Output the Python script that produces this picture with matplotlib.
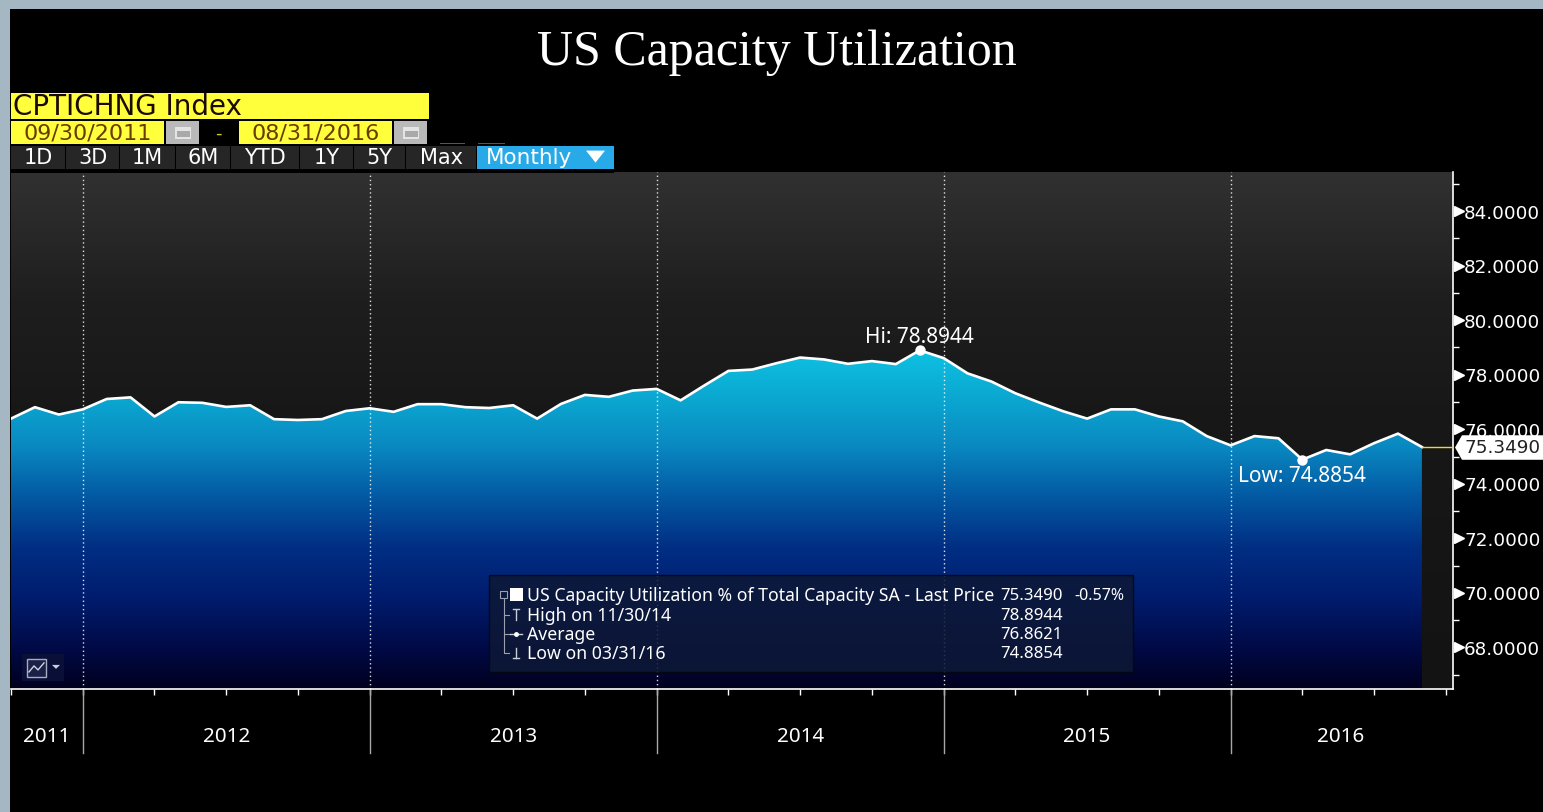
import numpy as np
import matplotlib
matplotlib.use('Agg')
import matplotlib.pyplot as plt
from matplotlib.colors import LinearSegmentedColormap
from matplotlib.patches import Polygon, Rectangle
from matplotlib.transforms import blended_transform_factory

W, H = 1543, 812

# monthly values, 09/2011 - 08/2016
values = [
    76.39, 76.81, 76.54, 76.73,
    77.11, 77.17, 76.47, 76.99, 76.97, 76.82, 76.88, 76.37, 76.34, 76.37, 76.67, 76.77,
    76.64, 76.92, 76.92, 76.81, 76.78, 76.88, 76.39, 76.93, 77.26, 77.19, 77.42, 77.48,
    77.06, 77.61, 78.14, 78.19, 78.42, 78.63, 78.56, 78.40, 78.50, 78.39, 78.8944, 78.61,
    78.05, 77.75, 77.32, 76.98, 76.66, 76.39, 76.73, 76.73, 76.47, 76.29, 75.75, 75.41,
    75.75, 75.67, 74.8854, 75.24, 75.08, 75.49, 75.84, 75.349,
]
year_labels = ['2011', '2012', '2013', '2014', '2015', '2016']
year_centers = [1.5, 9, 21, 33, 45, 55.6]
year_breaks = [3, 15, 27, 39, 51]
y_ticks = [68, 70, 72, 74, 76, 78, 80, 82, 84]
buttons = ['1D', '3D', '1M', '6M', 'YTD', '1Y', '5Y', 'Max']
legend_rows = ['US Capacity Utilization % of Total Capacity SA - Last Price',
               'High on 11/30/14', 'Average', 'Low on 03/31/16']
legend_vals = ['75.3490', '78.8944', '76.8621', '74.8854']

plt.rcParams['font.family'] = ['Noto Sans', 'DejaVu Sans']
# the extra half pixel stops savefig rounding the height down to 811
fig = plt.figure(figsize=(W / 100, (H + 0.5) / 100), dpi=100, facecolor='black')


def px_axes(left, top, right, bottom):
    return [left / W, 1 - bottom / H, (right - left) / W, (bottom - top) / H]


# chart area
ax = fig.add_axes(px_axes(11, 172.5, 1453, 689.5))
x = np.arange(len(values))
ax.set_xlim(0, 60.3)
ax.set_ylim(66.46, 85.43)
xlim = ax.get_xlim()
ylim = ax.get_ylim()

panel = LinearSegmentedColormap.from_list(
    'panel', [(0, '#131313'), (0.55, '#181818'), (0.75, '#1e1e1e'), (1, '#313131')])
ax.imshow(np.linspace(0, 1, 256)[::-1].reshape(-1, 1), cmap=panel, aspect='auto',
          extent=[*xlim, *ylim], zorder=0)

area = LinearSegmentedColormap.from_list(
    'area', [(0, '#00001e'), (0.12, '#000a46'), (0.27, '#001c6e'), (0.42, '#012f84'),
             (0.58, '#045da6'), (0.72, '#0a8ac2'), (0.85, '#0ba6d0'), (1, '#0dc2e2')])
top_val = max(values)
im = ax.imshow(np.linspace(0, 1, 256)[::-1].reshape(-1, 1), cmap=area, aspect='auto',
               extent=[xlim[0], xlim[1], ylim[0], top_val], zorder=1)
ax.set_xlim(xlim)
ax.set_ylim(ylim)
verts = [(x[0], ylim[0])] + list(zip(x, values)) + [(x[-1], ylim[0])]
im.set_clip_path(Polygon(verts, closed=True, transform=ax.transData))

for b in year_breaks:
    ax.axvline(b, color='white', lw=1, ls=(0, (1, 2)), alpha=0.85, zorder=2)

ax.plot(x, values, color='white', lw=1.9, solid_joinstyle='round', zorder=3)
hi = int(np.argmax(values))
lo = int(np.argmin(values))
ax.plot([x[hi], x[lo]], [values[hi], values[lo]], 'o', color='white', ms=6.5, zorder=4)
ax.annotate('Hi: 78.8944', (x[hi], values[hi]), xytext=(0, 13), textcoords='offset pixels',
            color='white', fontsize=15, ha='center', va='center', zorder=5)
ax.annotate('Low: 74.8854', (x[lo], values[lo]), xytext=(0, -16), textcoords='offset pixels',
            color='white', fontsize=15, ha='center', va='center', zorder=5)

# last price line out to the tag
ax.plot([x[-1], xlim[1]], [values[-1], values[-1]], color='#e8dc30', lw=1, zorder=3)

for s in ['top', 'left']:
    ax.spines[s].set_visible(False)
for s in ['bottom', 'right']:
    ax.spines[s].set_color('white')
    ax.spines[s].set_linewidth(1.2)

ax.yaxis.tick_right()
ax.set_yticks(y_ticks)
ax.set_yticks(np.arange(67, 86, 2), minor=True)
ax.set_yticklabels([f'{v:.4f}' for v in y_ticks], color='white', family='DejaVu Sans', fontsize=13.2)
ax.tick_params(axis='y', which='major', length=0, pad=8)
ax.tick_params(axis='y', which='minor', length=4, color='white', width=1)
ytrans = blended_transform_factory(ax.transAxes, ax.transData)
ax.plot([1.004] * len(y_ticks), y_ticks, '>', color='white', ms=6.5, clip_on=False,
        transform=ytrans, zorder=5)

ax.set_xticks(np.arange(0, 61, 3))
ax.set_xticklabels([])
ax.tick_params(axis='x', length=4, color='white', width=1)

xtrans = ax.get_xaxis_transform()
for b in year_breaks:
    ax.plot([b, b], [0, -0.122], color='#a8a8a8', lw=1, clip_on=False, transform=xtrans)
for c, lab in zip(year_centers, year_labels):
    ax.text(c, -0.091, lab, color='white', fontsize=14.8, ha='center', va='center',
            transform=xtrans)

# overlay in pixel coordinates for the terminal furniture
ui = fig.add_axes([0, 0, 1, 1], facecolor='none', zorder=10)
ui.set_xlim(0, W)
ui.set_ylim(H, 0)
ui.axis('off')


def box(x0, y0, x1, y1, color, **kw):
    ui.add_patch(Rectangle((x0, y0), x1 - x0, y1 - y0, facecolor=color, edgecolor='none', **kw))


box(0, 0, W, 9, '#a6b7c4')
box(0, 0, 10, H, '#a6b7c4')

ui.text(777, 53, 'US Capacity Utilization', color='white', family='Liberation Serif', fontsize=36,
        ha='center', va='center')

yellow = '#ffff3c'
box(11, 93, 429, 119, yellow)
ui.text(13, 106.5, 'CPTICHNG Index', color='#1a0a00', family='DejaVu Sans', fontsize=20,
        ha='left', va='center')
for x0, x1, txt in [(11, 164, '09/30/2011'), (239, 392, '08/31/2016')]:
    box(x0, 121, x1, 144, yellow)
    ui.text((x0 + x1) / 2, 133, txt, color='#6a3a00', family='DejaVu Sans', fontsize=16,
            ha='center', va='center')
for x0 in [166, 394]:
    box(x0, 121, x0 + 33, 144, '#b9b9b9')
    box(x0 + 9, 127, x0 + 25, 139, '#e4e4e4')
    box(x0 + 10.5, 131, x0 + 23.5, 137.5, '#a9a9a9')
ui.text(218, 134, '-', color='#d8c820', family='DejaVu Sans', fontsize=13, ha='center', va='center')
box(440, 143, 465, 144, '#555555')
box(478, 143, 505, 144, '#555555')

edges = [(11, 65), (66, 119), (120, 175), (176, 230), (231, 299), (300, 353), (354, 405), (406, 476)]
for (x0, x1), lab in zip(edges, buttons):
    box(x0, 146, x1, 169, '#262626')
    ui.text((x0 + x1) / 2, 158, lab, color='white', family='DejaVu Sans', fontsize=15,
            ha='center', va='center')
box(11, 169, 614, 173, 'black')
box(477, 146, 614, 169, '#29aae8')
ui.text(486, 158, 'Monthly', color='white', family='DejaVu Sans', fontsize=15.5, ha='left', va='center')
ui.add_patch(Polygon([(586, 151), (605, 151), (595.5, 163)], closed=True, facecolor='white'))

# last price tag
ui.add_patch(Polygon([(1455, 447.7), (1462, 435.5), (1543, 435.5), (1543, 460), (1462, 460)],
                     closed=True, facecolor='white'))
ui.text(1464, 448, f'{values[-1]:.4f}', color='#222222', family='DejaVu Sans', fontsize=13.2,
        ha='left', va='center')

# legend box
ui.add_patch(Rectangle((489, 575), 644, 97, facecolor='#0e1836', edgecolor='#05070f', lw=1, alpha=0.86))
rows_y = [596, 616, 635, 654]
for yy, lab, val in zip(rows_y, legend_rows, legend_vals):
    ui.text(527, yy, lab, color='white', fontsize=12.7, ha='left', va='center')
    ui.text(1000, yy, val, color='white', fontsize=12.1, ha='left', va='center')
ui.text(1124, 596, '-0.57%', color='white', fontsize=11.5, ha='right', va='center')
box(510, 588, 523, 601, 'white')
ui.add_patch(Rectangle((500, 591.5), 7, 7, facecolor='none', edgecolor='#9aa0ae', lw=0.8))
ui.plot([503.5, 503.5, 509], [598, 653, 653], color='#9aa0ae', lw=0.8)
ui.plot([503.5, 509], [615, 615], color='#9aa0ae', lw=0.8)
ui.plot([503.5, 509], [634, 634], color='#9aa0ae', lw=0.8)
ui.plot([516, 516], [610, 620], color='#c8ccd4', lw=1)
ui.plot([513, 519], [609.5, 609.5], color='#c8ccd4', lw=1)
ui.plot([510, 522], [634, 634], color='#c8ccd4', lw=1)
ui.plot([516], [634], 'o', color='white', ms=2.5)
ui.plot([516, 516], [648, 658], color='#c8ccd4', lw=1)
ui.plot([513, 519], [658.5, 658.5], color='#c8ccd4', lw=1)

# chart type button
box(22, 654, 64, 681, '#0a0f38')
ui.add_patch(Rectangle((27, 659), 19, 18, facecolor='#1a2048', edgecolor='#a8acc0', lw=1))
ui.plot([29, 34, 38, 44], [672, 666, 670, 663], color='#d0d4e0', lw=1)
ui.add_patch(Polygon([(52, 665), (60, 665), (56, 669)], closed=True, facecolor='#c8ccdc'))

fig.savefig('out.png', dpi=100, facecolor='black')
